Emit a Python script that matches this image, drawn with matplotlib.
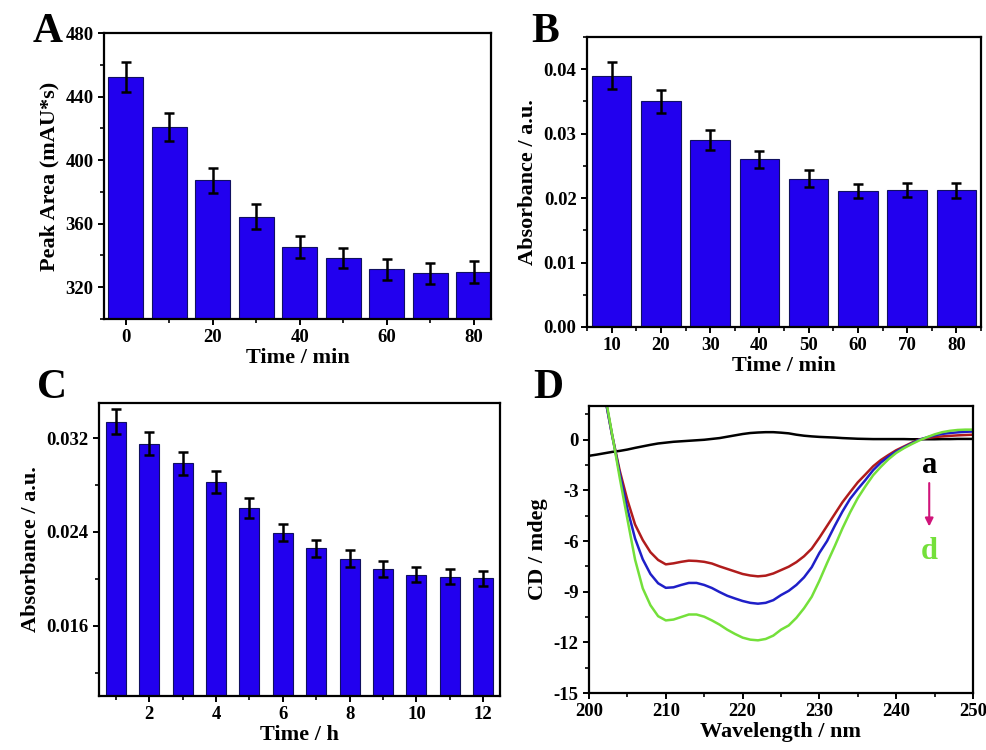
import matplotlib
matplotlib.use("Agg")
import matplotlib.pyplot as plt
from matplotlib.ticker import MultipleLocator

# ---------------------------------------------------------------------------
# Data
# ---------------------------------------------------------------------------
# Panel A: peak area vs time (min)
time_a = [0, 10, 20, 30, 40, 50, 60, 70, 80]
area_a = [452.5, 420.8, 387.2, 364.5, 345.6, 338.3, 331.2, 328.8, 329.6]
area_err = [9.5, 8.6, 8.0, 7.6, 6.9, 6.5, 6.7, 6.7, 6.7]

# Panel B: absorbance vs time (min)
time_b = [10, 20, 30, 40, 50, 60, 70, 80]
abs_b = [0.0390, 0.0350, 0.0290, 0.0260, 0.0230, 0.0211, 0.0213, 0.0212]
abs_b_err = [0.0021, 0.0018, 0.0016, 0.0013, 0.0013, 0.0011, 0.0011, 0.0012]

# Panel C: absorbance vs time (h)
time_c = [1, 2, 3, 4, 5, 6, 7, 8, 9, 10, 11, 12]
abs_c = [0.0334, 0.03154, 0.02984, 0.02829, 0.02602, 0.02394,
         0.0226, 0.02173, 0.02085, 0.02034, 0.02017, 0.02005]
abs_c_err = [0.00105, 0.00096, 0.00096, 0.00093, 0.00085, 0.00074,
             0.00074, 0.0007, 0.0007, 0.00065, 0.00063, 0.00065]

# Panel D: CD spectra
wl_a = list(range(200, 251))
cd_a = [-0.95, -0.88, -0.80, -0.72, -0.66, -0.58, -0.48, -0.39, -0.30, -0.22,
        -0.17, -0.12, -0.09, -0.06, -0.03, 0.00, 0.05, 0.10, 0.18, 0.26,
        0.34, 0.40, 0.43, 0.45, 0.45, 0.42, 0.38, 0.30, 0.24, 0.20,
        0.17, 0.15, 0.13, 0.10, 0.08, 0.06, 0.05, 0.04, 0.04, 0.04,
        0.04, 0.04, 0.03, 0.03, 0.03, 0.03, 0.04, 0.04, 0.05, 0.05, 0.05]

wl_bcd = list(range(202, 251))
cd_b = [2.74, 0.29, -1.83, -3.57, -5.02, -5.94, -6.66, -7.12, -7.38, -7.32,
        -7.23, -7.16, -7.18, -7.23, -7.33, -7.50, -7.65, -7.80, -7.95, -8.04,
        -8.09, -8.05, -7.92, -7.72, -7.52, -7.25, -6.90, -6.45, -5.80, -5.10,
        -4.40, -3.70, -3.10, -2.52, -2.05, -1.57, -1.20, -0.90, -0.62, -0.40,
        -0.18, 0.02, 0.10, 0.16, 0.20, 0.23, 0.26, 0.28, 0.30]
cd_c = [2.70, 0.30, -2.00, -4.10, -5.85, -7.08, -7.95, -8.50, -8.77, -8.74,
        -8.60, -8.48, -8.48, -8.60, -8.78, -9.02, -9.24, -9.40, -9.55, -9.66,
        -9.71, -9.66, -9.50, -9.20, -8.95, -8.60, -8.15, -7.55, -6.70, -6.00,
        -5.10, -4.25, -3.50, -2.92, -2.38, -1.80, -1.35, -1.00, -0.70, -0.45,
        -0.22, 0.00, 0.14, 0.26, 0.35, 0.40, 0.44, 0.47, 0.49]
cd_d = [2.90, 0.35, -2.25, -4.70, -7.10, -8.80, -9.80, -10.45, -10.70, -10.65,
        -10.50, -10.35, -10.35, -10.48, -10.70, -10.95, -11.25, -11.50, -11.72, -11.84,
        -11.88, -11.80, -11.60, -11.25, -11.00, -10.55, -9.98, -9.30, -8.35, -7.30,
        -6.30, -5.25, -4.30, -3.45, -2.75, -2.10, -1.60, -1.15, -0.78, -0.50,
        -0.26, -0.04, 0.15, 0.32, 0.45, 0.53, 0.58, 0.60, 0.60]

# ---------------------------------------------------------------------------
plt.rcParams["font.family"] = ["Liberation Serif", "DejaVu Serif"]
plt.rcParams["font.weight"] = "bold"
plt.rcParams["axes.labelweight"] = "bold"
plt.rcParams["axes.unicode_minus"] = False
plt.rcParams["axes.linewidth"] = 1.6
plt.rcParams["xtick.direction"] = "out"
plt.rcParams["ytick.direction"] = "out"
plt.rcParams["xtick.major.width"] = 1.4
plt.rcParams["ytick.major.width"] = 1.4
plt.rcParams["xtick.minor.width"] = 1.2
plt.rcParams["ytick.minor.width"] = 1.2
plt.rcParams["xtick.major.size"] = 4
plt.rcParams["ytick.major.size"] = 4
plt.rcParams["xtick.minor.size"] = 3
plt.rcParams["ytick.minor.size"] = 3

BAR = "#2200EE"
TICK_FS = 13.5
LABEL_FS = 16
PANEL_FS = 30

fig = plt.figure(figsize=(9.86, 7.5), dpi=100)
W, H = 986, 750


def add_axes(left, top, right, bottom):
    return fig.add_axes([left / W, 1 - bottom / H, (right - left) / W, (bottom - top) / H])


def style(ax):
    ax.tick_params(labelsize=TICK_FS, which="both", top=False, right=False)
    for lab in ax.get_xticklabels() + ax.get_yticklabels():
        lab.set_fontweight("bold")


def bars(ax, x, y, err, width):
    ax.bar(x, y, width=width, color=BAR, edgecolor="#101060", linewidth=0.8, zorder=2)
    ax.errorbar(x, y, yerr=err, fmt="none", ecolor="black", elinewidth=1.8,
                capsize=3.5, capthick=1.8, zorder=3)


# Panel A
axA = add_axes(104, 33, 491, 319)
bars(axA, time_a, area_a, area_err, 8)
axA.set_xlim(-5, 84)
axA.set_ylim(300, 480)
axA.xaxis.set_major_locator(MultipleLocator(20))
axA.xaxis.set_minor_locator(MultipleLocator(10))
axA.yaxis.set_major_locator(MultipleLocator(40))
axA.yaxis.set_minor_locator(MultipleLocator(20))
axA.set_xlabel("Time / min", fontsize=LABEL_FS, labelpad=1)
axA.set_ylabel("Peak Area (mAU*s)", fontsize=LABEL_FS)
style(axA)
fig.text(33 / W, 1 - 42 / H, "A", fontsize=PANEL_FS, fontweight="bold")

# Panel B
axB = add_axes(587, 37, 981, 327)
bars(axB, time_b, abs_b, abs_b_err, 8)
axB.set_xlim(5, 85)
axB.set_ylim(0, 0.045)
axB.xaxis.set_major_locator(MultipleLocator(10))
axB.xaxis.set_minor_locator(MultipleLocator(5))
axB.yaxis.set_major_locator(MultipleLocator(0.01))
axB.yaxis.set_minor_locator(MultipleLocator(0.005))
axB.yaxis.set_major_formatter(plt.FormatStrFormatter("%.2f"))
axB.set_xlabel("Time / min", fontsize=LABEL_FS, labelpad=1)
axB.set_ylabel("Absorbance / a.u.", fontsize=LABEL_FS)
style(axB)
fig.text(531 / W, 1 - 42 / H, "B", fontsize=PANEL_FS, fontweight="bold")

# Panel C
axC = add_axes(99, 403, 500, 696)
bars(axC, time_c, abs_c, abs_c_err, 0.6)
axC.set_xlim(0.5, 12.5)
axC.set_ylim(0.010, 0.035)
axC.xaxis.set_major_locator(MultipleLocator(2))
axC.xaxis.set_minor_locator(MultipleLocator(1))
axC.yaxis.set_major_locator(MultipleLocator(0.008))
axC.yaxis.set_minor_locator(MultipleLocator(0.004))
axC.yaxis.set_major_formatter(plt.FormatStrFormatter("%.3f"))
axC.set_xlabel("Time / h", fontsize=LABEL_FS, labelpad=1)
axC.set_ylabel("Absorbance / a.u.", fontsize=LABEL_FS)
style(axC)
fig.text(37 / W, 1 - 398 / H, "C", fontsize=PANEL_FS, fontweight="bold")

# Panel D
axD = add_axes(589, 406, 973, 693)
axD.plot(wl_a, cd_a, color="black", lw=1.8)
axD.plot(wl_bcd, cd_b, color="#B01C1C", lw=1.8)
axD.plot(wl_bcd, cd_c, color="#1F1FC8", lw=1.8)
axD.plot(wl_bcd, cd_d, color="#74E03A", lw=1.8)
axD.set_xlim(200, 250)
axD.set_ylim(-15, 2)
axD.xaxis.set_major_locator(MultipleLocator(10))
axD.xaxis.set_minor_locator(MultipleLocator(5))
axD.yaxis.set_major_locator(MultipleLocator(3))
axD.yaxis.set_minor_locator(MultipleLocator(1.5))
axD.set_xlabel("Wavelength / nm", fontsize=LABEL_FS, labelpad=1)
axD.set_ylabel("CD / mdeg", fontsize=LABEL_FS)
style(axD)
axD.text(244.3, -1.5, "a", fontsize=22, fontweight="bold", color="black",
         ha="center", va="center")
axD.text(244.3, -6.6, "d", fontsize=22, fontweight="bold", color="#74E03A",
         ha="center", va="center")
axD.annotate("", xy=(244.3, -5.3), xytext=(244.3, -2.4),
             arrowprops=dict(arrowstyle="-|>", color="#D0147A", lw=1.5,
                             mutation_scale=12))
fig.text(533 / W, 1 - 398 / H, "D", fontsize=PANEL_FS, fontweight="bold")

fig.savefig("out.png", dpi=100)
